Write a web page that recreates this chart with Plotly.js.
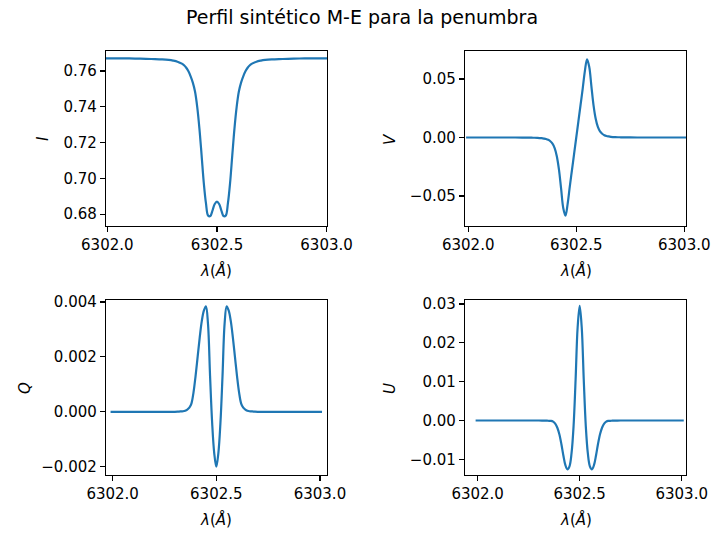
<!DOCTYPE html>
<html>
<head>
<meta charset="utf-8">
<script src="https://cdn.plot.ly/plotly-3.0.1.min.js"></script>
<style>
  html, body { margin: 0; padding: 0; background: #fff; }
  #chart { width: 714px; height: 533px; }
</style>
</head>
<body>
<div id="chart"></div>
<script>
// Wavelength samples (Å)
const wavelength = [
  6301.99, 6302.05, 6302.10, 6302.15, 6302.20, 6302.25, 6302.28, 6302.30, 6302.32, 6302.34,
  6302.35, 6302.36, 6302.37, 6302.38, 6302.39, 6302.40, 6302.41, 6302.42, 6302.43, 6302.44,
  6302.45, 6302.46, 6302.47, 6302.48, 6302.49, 6302.50, 6302.51, 6302.52, 6302.53, 6302.54,
  6302.55, 6302.56, 6302.57, 6302.58, 6302.59, 6302.60, 6302.61, 6302.62, 6302.63, 6302.64,
  6302.65, 6302.66, 6302.68, 6302.70, 6302.72, 6302.75, 6302.80, 6302.85, 6302.90, 6302.95,
  6303.01
];

// Stokes I
const stokesI = [
  0.7671, 0.7670, 0.7670, 0.7669, 0.7667, 0.7665, 0.7662, 0.7658, 0.7652, 0.7641,
  0.7632, 0.7618, 0.7598, 0.7570, 0.7535, 0.7485, 0.7400, 0.7280, 0.7130, 0.6975,
  0.6860, 0.6792, 0.6790, 0.6822, 0.6857, 0.6870, 0.6857, 0.6822, 0.6790, 0.6792,
  0.6860, 0.6975, 0.7130, 0.7280, 0.7400, 0.7485, 0.7535, 0.7570, 0.7598, 0.7618,
  0.7632, 0.7641, 0.7652, 0.7658, 0.7662, 0.7665, 0.7667, 0.7669, 0.7670, 0.7670,
  0.7671
];

// Stokes V
const stokesV = [
  0, 0, 0, 0, 0, -0.00005, -0.0001, -0.0002, -0.0003, -0.0006,
  -0.0009, -0.0013, -0.0020, -0.0032, -0.0052, -0.0090, -0.0160, -0.0275, -0.0440, -0.0605,
  -0.0668, -0.0570, -0.0420, -0.0280, -0.0140, 0, 0.0140, 0.0280, 0.0420, 0.0570,
  0.0668, 0.0605, 0.0440, 0.0275, 0.0160, 0.0090, 0.0052, 0.0032, 0.0020, 0.0013,
  0.0009, 0.0006, 0.0003, 0.0002, 0.0001, 0.00005, 0, 0, 0, 0,
  0
];

// Stokes Q
const stokesQ = [
  0, 0, 0, 0, 0, 0, 0, 0, 0.00001, 0.00002,
  0.00004, 0.00008, 0.00015, 0.0003, 0.0007, 0.0013, 0.0020, 0.0027, 0.0033, 0.00368,
  0.00384, 0.0032, 0.0013, -0.0004, -0.0015, -0.0020, -0.0015, -0.0004, 0.0013, 0.0032,
  0.00384, 0.00368, 0.0033, 0.0027, 0.0020, 0.0013, 0.0007, 0.0003, 0.00015, 0.00008,
  0.00004, 0.00002, 0.00001, 0, 0, 0, 0, 0, 0, 0,
  0
];

// Stokes U
const stokesU = [
  0, 0, 0, 0, 0, 0, 0, 0, -0.00002, -0.00005,
  -0.0001, -0.0001, -0.0003, -0.0008, -0.0018, -0.0035, -0.0060, -0.0090, -0.0115, -0.0126,
  -0.0118, -0.0085, -0.0015, 0.0105, 0.0240, 0.0295, 0.0240, 0.0105, -0.0015, -0.0085,
  -0.0118, -0.0126, -0.0115, -0.0090, -0.0060, -0.0035, -0.0018, -0.0008, -0.0003, -0.0001,
  -0.0001, -0.00005, -0.00002, 0, 0, 0, 0, 0, 0, 0,
  0
];

const xTickVals = [6302.0, 6302.5, 6303.0];
const iTickVals = [0.68, 0.70, 0.72, 0.74, 0.76];
const vTickVals = [-0.05, 0.00, 0.05];
const qTickVals = [-0.002, 0.000, 0.002, 0.004];
const uTickVals = [-0.01, 0.00, 0.01, 0.02, 0.03];

const figTitle = 'Perfil sintético M-E para la penumbra';
const yLabels = ['I', 'V', 'Q', 'U'];
const xLabel = '<i>λ</i>(<i>Å</i>)';

const W = 714, H = 533;
const px = v => v / W;
const py = v => 1 - v / H;

const lineColor = '#1f77b4';
const tickFont = { family: 'DejaVu Sans, sans-serif', size: 15, color: '#000' };

function xAxis(range, x0, x1, anchor) {
  return {
    domain: [px(x0), px(x1)], range: range, anchor: anchor,
    tickvals: xTickVals, tickformat: '.1f',
    ticks: 'outside', ticklen: 5, tickwidth: 1.2, tickcolor: '#000',
    showline: true, linecolor: '#000', linewidth: 1.2, mirror: true,
    showgrid: false, zeroline: false, tickfont: tickFont, fixedrange: true
  };
}
function yAxis(range, y0, y1, anchor, tv, fmt) {
  return {
    domain: [py(y1), py(y0)], range: range, anchor: anchor,
    tickvals: tv, tickformat: fmt,
    ticks: 'outside', ticklen: 5, tickwidth: 1.2, tickcolor: '#000',
    showline: true, linecolor: '#000', linewidth: 1.2, mirror: true,
    showgrid: false, zeroline: false, tickfont: tickFont, fixedrange: true
  };
}

const mk = (y, xa, ya) => ({
  x: wavelength, y: y, xaxis: xa, yaxis: ya, type: 'scatter', mode: 'lines',
  line: { color: lineColor, width: 2.2, shape: 'spline', smoothing: 1 },
  hoverinfo: 'skip', showlegend: false
});

const data = [
  mk(stokesI, 'x', 'y'),
  mk(stokesV, 'x2', 'y2'),
  mk(stokesQ, 'x3', 'y3'),
  mk(stokesU, 'x4', 'y4')
];

const labFont = { family: 'DejaVu Sans, sans-serif', size: 15, color: '#000' };
const ann = (text, x, y, angle) => ({
  text: text, x: px(x), y: py(y), xref: 'paper', yref: 'paper',
  showarrow: false, textangle: angle, font: labFont,
  xanchor: 'center', yanchor: 'middle'
});

const layout = {
  width: W, height: H,
  margin: { l: 0, r: 0, t: 0, b: 0 },
  paper_bgcolor: '#fff', plot_bgcolor: '#fff',
  title: { text: figTitle, x: px(362), xanchor: 'center', y: py(17), yanchor: 'middle',
           font: { family: 'DejaVu Sans, sans-serif', size: 19, color: '#000' } },
  xaxis:  xAxis([6301.994, 6303.002], 106, 327, 'y'),
  yaxis:  yAxis([0.67341, 0.77117], 51, 226, 'x', iTickVals, '.2f'),
  xaxis2: xAxis([6301.985, 6303.008], 465, 686, 'y2'),
  yaxis2: yAxis([-0.07564, 0.07393], 51, 226, 'x2', vTickVals, '.2f'),
  xaxis3: xAxis([6301.968, 6303.034], 106, 327, 'y3'),
  yaxis3: yAxis([-0.0023, 0.00407], 300, 475, 'x3', qTickVals, '.3f'),
  xaxis4: xAxis([6301.938, 6303.021], 465, 686, 'y4'),
  yaxis4: yAxis([-0.01404, 0.03103], 300, 475, 'x4', uTickVals, '.2f'),
  annotations: [
    ann('<i>' + yLabels[0] + '</i>', 43, 139, -90),
    ann('<i>' + yLabels[1] + '</i>', 390, 139, -90),
    ann('<i>' + yLabels[2] + '</i>', 25, 388, -90),
    ann('<i>' + yLabels[3] + '</i>', 390, 388, -90),
    ann(xLabel, 216.5, 270, 0),
    ann(xLabel, 575.5, 270, 0),
    ann(xLabel, 216.5, 519, 0),
    ann(xLabel, 575.5, 519, 0)
  ]
};

Plotly.newPlot('chart', data, layout, { staticPlot: true, displayModeBar: false });
</script>
</body>
</html>
